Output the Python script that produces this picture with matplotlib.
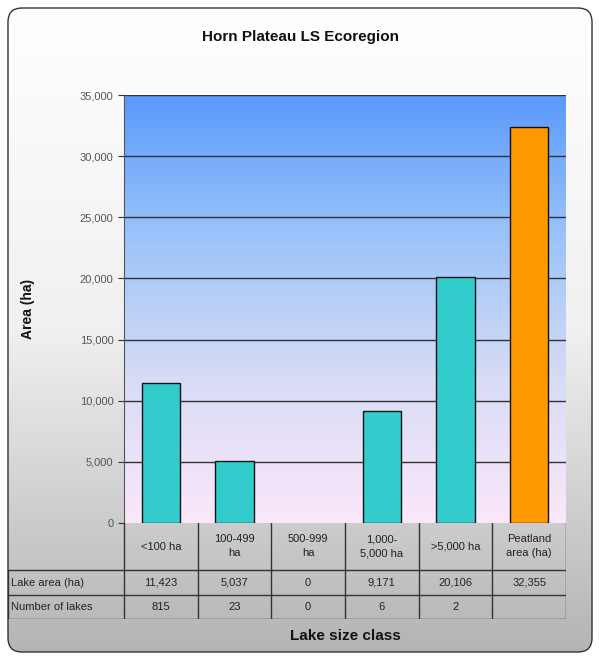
import numpy as np
import matplotlib
matplotlib.use("Agg")
import matplotlib.pyplot as plt
from matplotlib.patches import FancyBboxPatch
from matplotlib.colors import LinearSegmentedColormap
from matplotlib.ticker import FuncFormatter

# data
categories = ["<100 ha", "100-499\nha", "500-999\nha", "1,000-\n5,000 ha", ">5,000 ha", "Peatland\narea (ha)"]
lake_area = [11423, 5037, 0, 9171, 20106, 32355]
num_lakes = ["815", "23", "0", "6", "2", ""]
bar_colors = ["#33cccc"] * 5 + ["#ff9900"]
row_labels = ["Lake area (ha)", "Number of lakes"]

plt.rcParams["font.family"] = ["Liberation Sans", "DejaVu Sans"]

W, H = 599, 660
fig = plt.figure(figsize=(W / 100, H / 100), dpi=100)

def px(x0, y0, x1, y1):
    # pixel box -> figure fraction rect
    return [x0 / W, 1 - y1 / H, (x1 - x0) / W, (y1 - y0) / H]

# outer gray gradient panel with rounded border
bg = fig.add_axes([0, 0, 1, 1], zorder=0)
bg.set_xlim(0, W)
bg.set_ylim(H, 0)
bg.axis("off")
grad = np.linspace(0, 1, 256)[:, None]
img = bg.imshow(grad, cmap=LinearSegmentedColormap.from_list(
    "g", ["#ffffff", "#f0f0f0", "#b4b4b4"]), extent=[8, 592, 652, 8], aspect="auto")
box = FancyBboxPatch((8, 8), 584, 644, boxstyle="round,pad=0,rounding_size=14",
                     fc="none", ec="#333333", lw=1.0)
bg.add_patch(box)
img.set_clip_path(box)

bg.text(300, 37, "Horn Plateau LS Ecoregion", ha="center", va="center",
        fontsize=11, fontweight="bold", color="#111111")
bg.text(345, 636, "Lake size class", ha="center", va="center",
        fontsize=11, fontweight="bold", color="#111111")

# main plot
ax = fig.add_axes(px(124, 95, 566, 523), zorder=1)
x = np.arange(len(categories))
ax.set_xlim(-0.5, len(categories) - 0.5)
ax.set_ylim(0, 35000)
pgrad = np.linspace(0, 1, 256)[:, None]
ax.imshow(pgrad, cmap=LinearSegmentedColormap.from_list(
    "p", ["#fbe8fa", "#d8dcf6", "#9cc4fa", "#5a9afc"]), origin="lower",
    extent=[-0.5, len(categories) - 0.5, 0, 35000], aspect="auto", zorder=0)
for yv in range(5000, 35001, 5000):
    ax.axhline(yv, color="#333333", lw=1.0, zorder=1)
edge_w = [1.0 if v > 0 else 0 for v in lake_area]
ax.bar(x, lake_area, width=0.52, color=bar_colors, edgecolor="#111111", linewidth=edge_w, zorder=2)
ax.set_yticks(range(0, 35001, 5000))
ax.yaxis.set_major_formatter(FuncFormatter(lambda v, p: f"{int(v):,}"))
ax.tick_params(axis="y", labelsize=8, colors="#333333", length=4, labelcolor="#555555")
ax.set_xticks([])
for s in ["top", "right", "bottom"]:
    ax.spines[s].set_visible(False)
ax.spines["left"].set_color("#555555")
ax.set_ylabel("Area (ha)", fontsize=10, fontweight="bold", color="#111111", labelpad=32)

# data table under the plot
tb = fig.add_axes(px(8, 523, 566, 619), zorder=1)
tb.set_xlim(8, 566)
tb.set_ylim(619, 523)
tb.axis("off")
col_w = (566 - 124) / len(categories)
rows_y = [523, 570, 595, 619]
lc = "#333333"
for i, cat in enumerate(categories):
    cx = 124 + (i + 0.5) * col_w
    tb.text(cx, (rows_y[0] + rows_y[1]) / 2, cat, ha="center", va="center",
            fontsize=8, color="#222222", linespacing=1.5)
    tb.text(cx, (rows_y[1] + rows_y[2]) / 2, f"{lake_area[i]:,}", ha="center", va="center",
            fontsize=8, color="#222222")
    tb.text(cx, (rows_y[2] + rows_y[3]) / 2, num_lakes[i], ha="center", va="center",
            fontsize=8, color="#222222")
for j, lab in enumerate(row_labels):
    tb.text(11, (rows_y[j + 1] + rows_y[j + 2]) / 2, lab, ha="left", va="center",
            fontsize=8, color="#222222")
# grid lines of the table
for i in range(len(categories) + 1):
    xx = 124 + i * col_w
    tb.plot([xx, xx], [rows_y[0], rows_y[3]], color=lc, lw=1.0)
tb.plot([8, 8], [rows_y[1], rows_y[3]], color=lc, lw=1.0)
for yy in rows_y[1:]:
    tb.plot([8, 566], [yy, yy], color=lc, lw=1.0)

fig.savefig("out.png", dpi=100)
